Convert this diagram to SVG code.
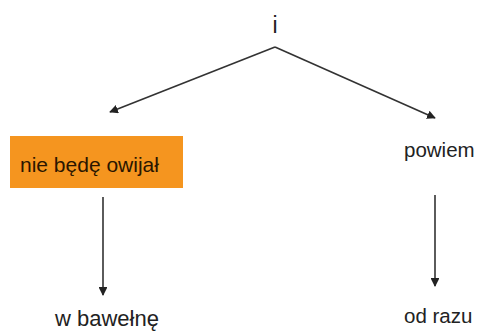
<svg xmlns="http://www.w3.org/2000/svg" width="477" height="331" viewBox="0 0 477 331">
<style>
  .t { font-family: "Liberation Sans", Arial, sans-serif; font-size: 21px; fill: #222; }
  .c { stroke: #333; stroke-width: 1.6; fill: none; }
</style>
<defs>
  <marker id="ah" viewBox="0 0 10 10" refX="9" refY="5" markerWidth="5.5" markerHeight="5.5" orient="auto" markerUnits="strokeWidth">
    <path d="M0,0 L10,5 L0,10 z" fill="#222"/>
  </marker>
</defs>
<rect width="477" height="331" fill="#fff"/>
<g id="connectors">
  <line class="c" x1="275" y1="47" x2="110" y2="112" marker-end="url(#ah)"/>
  <line class="c" x1="275" y1="47" x2="435" y2="118" marker-end="url(#ah)"/>
  <line class="c" x1="103" y1="197" x2="103" y2="295" marker-end="url(#ah)"/>
  <line class="c" x1="435" y1="195" x2="435" y2="286" marker-end="url(#ah)"/>
</g>
<g id="node-i">
  <text class="t" x="275" y="33" text-anchor="middle" style="font-size:23px">i</text>
</g>
<g id="node-nie-bede-owijal">
  <rect x="10" y="136" width="173" height="52" fill="#F5951F"/>
  <text class="t" x="20" y="172" style="fill:#2a1500">nie będę owijał</text>
</g>
<g id="node-powiem">
  <text class="t" x="404" y="157" style="font-size:20.5px">powiem</text>
</g>
<g id="node-w-bawelne">
  <text class="t" x="55" y="326" style="font-size:22px">w bawełnę</text>
</g>
<g id="node-od-razu">
  <text class="t" x="404" y="323" style="font-size:20.5px">od razu</text>
</g>
</svg>
